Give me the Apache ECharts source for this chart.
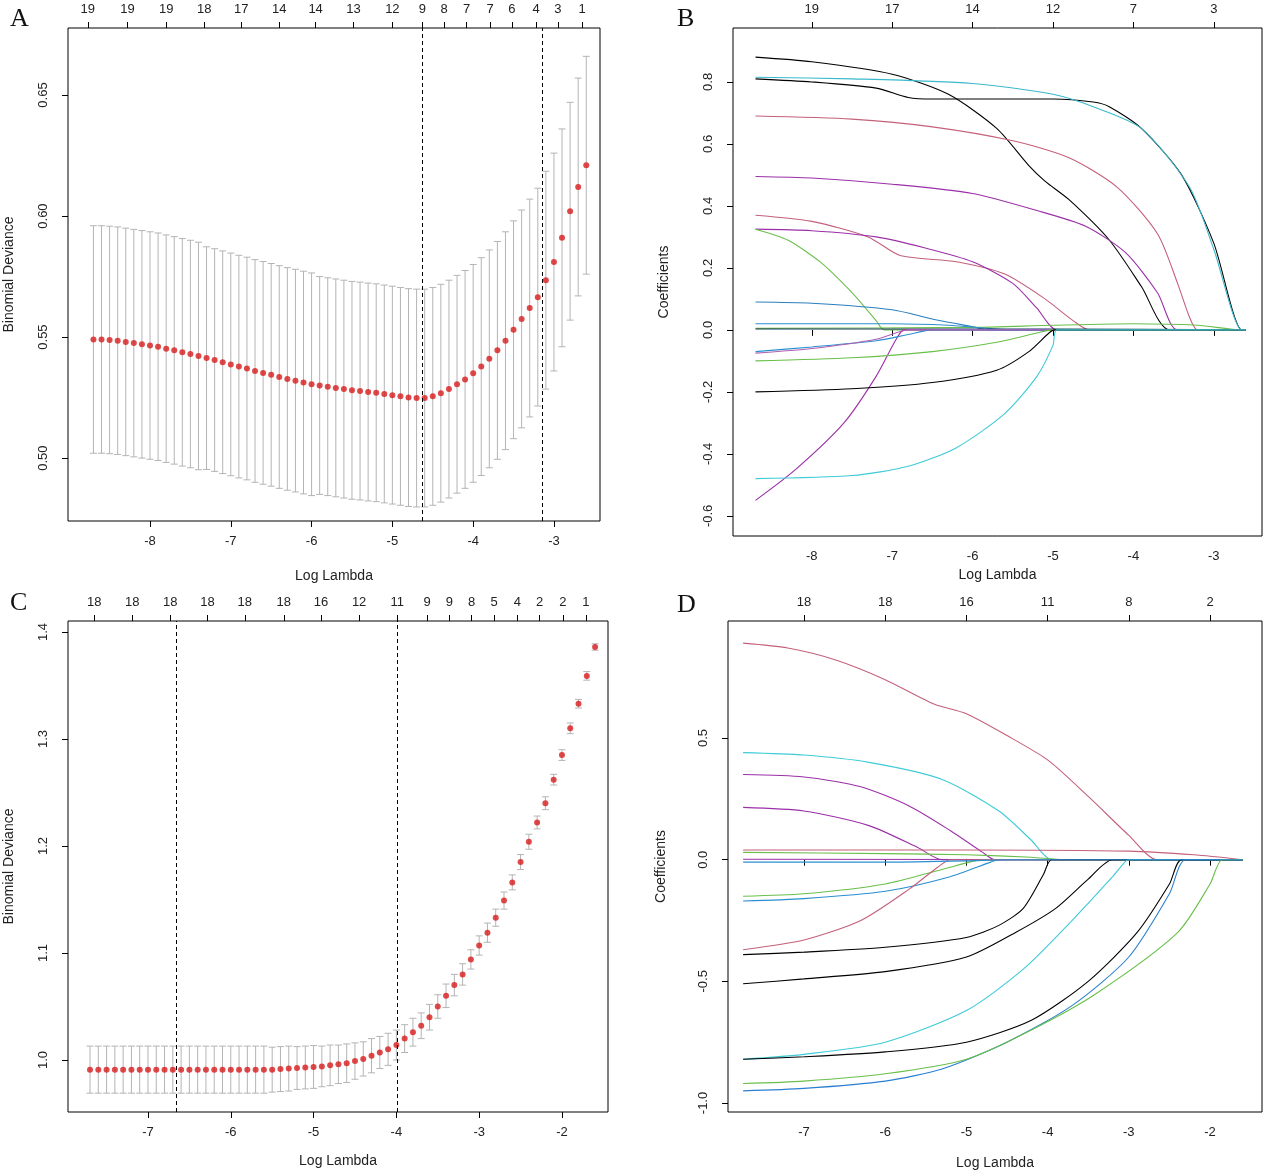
<!DOCTYPE html>
<html><head><meta charset="utf-8">
<script src="https://cdn.jsdelivr.net/npm/echarts@6/dist/echarts.min.js"></script>
<style>html,body{margin:0;padding:0;background:#fff}#c{width:1269px;height:1174px}</style>
</head><body><div id="c"></div>
<script>
// ---------- Panel A ----------
const aLambda = [-8.7,-8.6,-8.5,-8.4,-8.3,-8.2,-8.1,-8.0,-7.9,-7.8,-7.7,-7.6,-7.5,-7.4,-7.3,-7.2,-7.1,-7.0,-6.9,-6.8,-6.7,-6.6,-6.5,-6.4,-6.3,-6.2,-6.1,-6.0,-5.9,-5.8,-5.7,-5.6,-5.5,-5.4,-5.3,-5.2,-5.1,-5.0,-4.9,-4.8,-4.7,-4.6,-4.5,-4.4,-4.3,-4.2,-4.1,-4.0,-3.9,-3.8,-3.7,-3.6,-3.5,-3.4,-3.3,-3.2,-3.1,-3.0,-2.9,-2.8,-2.7,-2.6];
const aMean = [.549,.549,.5488,.5485,.548,.5475,.547,.5465,.546,.5452,.5445,.5437,.543,.5422,.5413,.5405,.5396,.5387,.5378,.537,.536,.5352,.5344,.5335,.5327,.532,.5312,.5305,.53,.5295,.529,.5285,.528,.5277,.5273,.527,.5265,.526,.5255,.525,.5248,.5248,.5255,.5268,.5285,.5305,.5325,.535,.5378,.541,.5445,.5485,.553,.5575,.562,.5665,.5735,.581,.591,.602,.612,.621];
const aSE = [.047,.047,.047,.047,.047,.047,.047,.047,.047,.047,.047,.047,.047,.047,.046,.046,.046,.046,.046,.046,.046,.046,.046,.046,.046,.046,.046,.046,.045,.045,.045,.045,.045,.045,.045,.045,.045,.045,.045,.045,.045,.045,.045,.045,.045,.045,.045,.045,.045,.045,.045,.045,.045,.045,.045,.045,.045,.045,.045,.045,.045,.045];
const aTopLambda = [-8.77,-8.28,-7.80,-7.33,-6.87,-6.40,-5.95,-5.48,-5.0,-4.63,-4.36,-4.08,-3.79,-3.52,-3.22,-2.95,-2.65];
const aTopCount = [19,19,19,18,17,14,14,13,12,9,8,7,7,6,4,3,1];
const aVLines = [-4.63,-3.14];
const aXTicks = [-8,-7,-6,-5,-4,-3];
const aYTicks = [0.50,0.55,0.60,0.65];

// ---------- Panel C ----------
const cLambda = [-7.7,-7.6,-7.5,-7.4,-7.3,-7.2,-7.1,-7.0,-6.9,-6.8,-6.7,-6.6,-6.5,-6.4,-6.3,-6.2,-6.1,-6.0,-5.9,-5.8,-5.7,-5.6,-5.5,-5.4,-5.3,-5.2,-5.1,-5.0,-4.9,-4.8,-4.7,-4.6,-4.5,-4.4,-4.3,-4.2,-4.1,-4.0,-3.9,-3.8,-3.7,-3.6,-3.5,-3.4,-3.3,-3.2,-3.1,-3.0,-2.9,-2.8,-2.7,-2.6,-2.5,-2.4,-2.3,-2.2,-2.1,-2.0,-1.9,-1.8,-1.7,-1.6];
const cMean = [.991,.991,.991,.991,.991,.991,.991,.991,.991,.991,.991,.991,.991,.991,.991,.991,.991,.991,.991,.991,.991,.991,.991,.9915,.992,.9925,.993,.9935,.994,.995,.996,.997,.999,1.001,1.004,1.007,1.010,1.014,1.020,1.026,1.032,1.040,1.050,1.060,1.070,1.080,1.094,1.107,1.119,1.133,1.149,1.166,1.185,1.204,1.222,1.240,1.262,1.285,1.310,1.333,1.359,1.386];
const cSE = [.022,.022,.022,.022,.022,.022,.022,.022,.022,.022,.022,.022,.022,.022,.022,.022,.022,.022,.022,.022,.022,.022,.021,.021,.021,.020,.020,.020,.019,.019,.018,.018,.017,.016,.016,.015,.015,.014,.013,.013,.012,.012,.011,.011,.010,.010,.009,.009,.009,.008,.008,.007,.007,.007,.006,.006,.005,.005,.005,.004,.004,.003];
const cTopLambda = [-7.65,-7.19,-6.73,-6.28,-5.83,-5.36,-4.91,-4.45,-3.99,-3.63,-3.36,-3.09,-2.82,-2.54,-2.27,-1.99,-1.71];
const cTopCount = [18,18,18,18,18,18,16,12,11,9,9,8,5,4,2,2,1];
const cVLines = [-6.66,-3.99];
const cXTicks = [-7,-6,-5,-4,-3,-2];
const cYTicks = [1.0,1.1,1.2,1.3,1.4];

// ---------- Panel B ----------
const bXTicks = [-8,-7,-6,-5,-4,-3];
const bTopCount = [19,17,14,12,7,3];
const bYTicks = [-0.6,-0.4,-0.2,0.0,0.2,0.4,0.6,0.8];
const bColors = ['#000','#000','#3bb9cc','#c4607a','#9b2fa8','#c4607a','#9b2fa8','#6abf4b','#2a7fbf','#6abf4b','#2a8fd0','#1a3a60','#9b2fa8','#2a8fd0','#b060b0','#6abf4b','#000','#3ecbd6'];
const bPaths = [
 [[-8.7,0.88],[-8,0.865],[-7,0.825],[-6.3,0.76],[-5.7,0.65],[-5.3,0.53],[-5.1,0.48],[-4.8,0.42],[-4.3,0.29],[-3.9,0.14],[-3.55,0],[-2.6,0]],
 [[-8.7,0.81],[-8,0.8],[-7.2,0.78],[-6.8,0.75],[-6.5,0.745],[-5,0.745],[-4.5,0.735],[-4.3,0.72],[-3.9,0.65],[-3.4,0.5],[-3.0,0.28],[-2.65,0],[-2.6,0]],
 [[-8.7,0.815],[-7.5,0.81],[-6,0.795],[-5,0.76],[-4.5,0.72],[-3.9,0.65],[-3.3,0.46],[-3.0,0.26],[-2.65,0],[-2.6,0]],
 [[-8.7,0.69],[-7.5,0.68],[-6.5,0.655],[-5.5,0.61],[-4.8,0.555],[-4.2,0.46],[-3.7,0.31],[-3.45,0.15],[-3.3,0.04],[-3.2,0],[-2.6,0]],
 [[-8.7,0.495],[-8,0.49],[-7,0.47],[-6,0.44],[-5.2,0.385],[-4.6,0.335],[-4.1,0.25],[-3.7,0.12],[-3.45,0],[-2.6,0]],
 [[-8.7,0.37],[-8,0.35],[-7.3,0.3],[-6.9,0.24],[-6.2,0.22],[-5.6,0.18],[-5.1,0.1],[-4.75,0.03],[-4.55,0],[-2.6,0]],
 [[-8.7,0.325],[-8,0.32],[-7.2,0.3],[-6.6,0.265],[-6,0.22],[-5.5,0.15],[-5.2,0.07],[-4.95,0],[-2.6,0]],
 [[-8.7,0.325],[-8.3,0.29],[-7.9,0.22],[-7.5,0.12],[-7.2,0.03],[-7.1,0],[-2.6,0]],
 [[-8.7,0.09],[-8,0.086],[-7,0.065],[-6.5,0.035],[-6,0.01],[-5.8,0],[-2.6,0]],
 [[-8.7,0.005],[-6,0.008],[-5,0.015],[-4,0.02],[-3.2,0.015],[-2.65,0],[-2.6,0]],
 [[-8.7,0.02],[-7,0.02],[-6.3,0.015],[-5.8,0.005],[-5.5,0],[-2.6,0]],
 [[-8.7,0.003],[-5,0.003],[-2.6,0]],
 [[-8.7,-0.55],[-8.2,-0.45],[-7.6,-0.3],[-7.2,-0.15],[-6.95,-0.03],[-6.85,0],[-2.6,0]],
 [[-8.7,-0.07],[-8,-0.055],[-7.2,-0.035],[-6.8,-0.015],[-6.5,0],[-2.6,0]],
 [[-8.7,-0.075],[-8,-0.06],[-7.2,-0.03],[-6.9,-0.005],[-6.8,0],[-2.6,0]],
 [[-8.7,-0.1],[-7.5,-0.09],[-6.5,-0.07],[-5.7,-0.04],[-5.2,-0.01],[-5.0,0],[-2.6,0]],
 [[-8.7,-0.2],[-7.5,-0.19],[-6.5,-0.17],[-5.7,-0.13],[-5.3,-0.07],[-5.05,-0.01],[-4.98,0],[-2.6,0]],
 [[-8.7,-0.48],[-7.5,-0.47],[-6.8,-0.44],[-6.2,-0.38],[-5.6,-0.27],[-5.2,-0.15],[-5.0,-0.05],[-4.95,0],[-2.6,0]]
];

// ---------- Panel D ----------
const dXTicks = [-7,-6,-5,-4,-3,-2];
const dTopCount = [18,18,16,11,8,2];
const dYTicks = [-1.0,-0.5,0.0,0.5];
const dColors = ['#c4607a','#3ecbd6','#9b2fa8','#9b2fa8','#c4607a','#6abf4b','#9b2fa8','#6abf4b','#2a8fd0','#c4607a','#000','#000','#3ecbd6','#000','#2a7fd0','#6abf4b','#2a8fd0'];
const dPaths = [
 [[-7.75,0.89],[-7.2,0.87],[-6.6,0.82],[-6,0.74],[-5.4,0.64],[-5,0.6],[-4.5,0.51],[-4,0.41],[-3.5,0.26],[-3.0,0.1],[-2.65,0],[-1.6,0]],
 [[-7.75,0.44],[-7,0.43],[-6.2,0.4],[-5.3,0.33],[-4.6,0.2],[-4.2,0.08],[-3.95,0],[-1.6,0]],
 [[-7.75,0.35],[-7,0.34],[-6.3,0.3],[-5.7,0.22],[-5.2,0.12],[-4.8,0.03],[-4.65,0],[-1.6,0]],
 [[-7.75,0.215],[-7,0.2],[-6.2,0.14],[-5.6,0.05],[-5.3,0.0],[-1.6,0]],
 [[-7.75,0.04],[-5,0.04],[-3,0.035],[-2.2,0.02],[-1.6,0]],
 [[-7.75,0.03],[-6,0.025],[-5,0.02],[-4.2,0.01],[-3.8,0],[-1.6,0]],
 [[-7.75,0.002],[-1.6,0]],
 [[-7.75,-0.15],[-7,-0.14],[-6,-0.1],[-5.3,-0.04],[-4.9,-0.005],[-4.8,0],[-1.6,0]],
 [[-7.75,-0.17],[-7,-0.16],[-6,-0.13],[-5.2,-0.07],[-4.7,-0.01],[-4.6,0],[-1.6,0]],
 [[-7.75,-0.37],[-7,-0.33],[-6.3,-0.25],[-5.7,-0.12],[-5.35,-0.03],[-5.2,0],[-1.6,0]],
 [[-7.75,-0.39],[-7,-0.38],[-6,-0.36],[-5,-0.32],[-4.6,-0.27],[-4.3,-0.2],[-4.05,-0.06],[-3.95,0],[-1.6,0]],
 [[-7.75,-0.51],[-7,-0.49],[-6,-0.46],[-5,-0.4],[-4.4,-0.3],[-3.9,-0.2],[-3.5,-0.08],[-3.2,0],[-1.6,0]],
 [[-7.75,-0.82],[-7,-0.8],[-6,-0.75],[-5,-0.62],[-4.3,-0.45],[-3.7,-0.25],[-3.2,-0.07],[-3.05,-0.01],[-3.0,0],[-1.6,0]],
 [[-7.75,-0.82],[-7,-0.81],[-6,-0.79],[-5,-0.75],[-4.2,-0.66],[-3.5,-0.5],[-2.9,-0.3],[-2.5,-0.1],[-2.35,0],[-1.6,0]],
 [[-7.75,-0.95],[-7,-0.94],[-6,-0.91],[-5.3,-0.86],[-4.5,-0.75],[-3.7,-0.6],[-3,-0.4],[-2.5,-0.14],[-2.3,0],[-1.6,0]],
 [[-7.75,-0.92],[-7,-0.91],[-6,-0.88],[-5,-0.82],[-4.2,-0.7],[-3.4,-0.55],[-2.4,-0.3],[-2.0,-0.1],[-1.85,0],[-1.6,0]],
 [[-7.75,-0.01],[-6,-0.01],[-5,-0.005],[-4.5,0],[-1.6,0]]
];

const FONT = 'Liberation Sans';
const grids = [
 {left:68, top:28, width:532, height:493},
 {left:733, top:28, width:529, height:508},
 {left:68, top:621, width:540, height:491},
 {left:728, top:621, width:534, height:491}
].map(g => Object.assign({show:true, borderColor:'#000', borderWidth:1, containLabel:false, outerBoundsMode:'none'}, g));

function bottomX(gi, min, max, ticks, gap) {
  return {type:'value', gridIndex:gi, min, max, position:'bottom',
    name:'Log Lambda', nameLocation:'middle', nameGap:gap,
    nameTextStyle:{fontFamily:FONT, fontSize:14, color:'#222'},
    axisLine:{show:false}, splitLine:{show:false},
    axisTick:{show:true, length:6, customValues:ticks, lineStyle:{color:'#000'}},
    axisLabel:{customValues:ticks, fontFamily:FONT, fontSize:13, color:'#222', margin:14}};
}
function topX(gi, min, max, ticks, counts) {
  return {type:'value', gridIndex:gi, min, max, position:'top',
    axisLine:{show:false}, splitLine:{show:false},
    axisTick:{show:true, length:6, customValues:ticks, lineStyle:{color:'#000'}},
    axisLabel:{customValues:ticks, fontFamily:FONT, fontSize:13, color:'#222', margin:12,
      formatter: v => { let bi=0; ticks.forEach((t,i)=>{ if(Math.abs(t-v)<Math.abs(ticks[bi]-v)) bi=i; }); return String(counts[bi]); }}};
}
function yAx(gi, min, max, ticks, name, gap, fmt) {
  return {type:'value', gridIndex:gi, min, max,
    name, nameLocation:'middle', nameGap:gap,
    nameTextStyle:{fontFamily:FONT, fontSize:14, color:'#222'},
    axisLine:{show:false}, splitLine:{show:false},
    axisTick:{show:true, length:6, customValues:ticks, lineStyle:{color:'#000'}},
    axisLabel:{customValues:ticks, rotate:90, fontFamily:FONT, fontSize:13, color:'#222', margin:18, formatter:fmt}};
}

const xAxis = [
 bottomX(0,-9.015,-2.43,aXTicks,48), topX(0,-9.015,-2.43,aTopLambda,aTopCount),
 bottomX(1,-8.98,-2.40,bXTicks,32), topX(1,-8.98,-2.40,bXTicks,bTopCount),
 bottomX(2,-7.966,-1.444,cXTicks,42), topX(2,-7.966,-1.444,cTopLambda,cTopCount),
 bottomX(3,-7.936,-1.36,dXTicks,44), topX(3,-7.936,-1.36,dXTicks,dTopCount)
];
const yAxis = [
 yAx(0,0.474,0.6777,aYTicks,'Binomial Deviance',52,v=>v.toFixed(2)),
 yAx(1,-0.665,0.974,bYTicks,'Coefficients',62,v=>v.toFixed(1)),
 yAx(2,0.9514,1.4103,cYTicks,'Binomial Deviance',52,v=>v.toFixed(1)),
 yAx(3,-1.037,0.981,dYTicks,'Coefficients',60,v=>v.toFixed(1))
];

function errBars(xi, yi, lam, mean, se) {
  return {type:'custom', xAxisIndex:xi, yAxisIndex:yi, z:2, silent:true,
    data: lam.map((l,i)=>[l,mean[i],se[i]]),
    encode:{x:0,y:1},
    renderItem:(params, api) => {
      const x=api.value(0), m=api.value(1), s=api.value(2);
      const t=api.coord([x,m+s]), b=api.coord([x,m-s]);
      const st={stroke:'#b4b4b4', lineWidth:1};
      return {type:'group', children:[
        {type:'line', shape:{x1:t[0],y1:t[1],x2:b[0],y2:b[1]}, style:st},
        {type:'line', shape:{x1:t[0]-3.5,y1:t[1],x2:t[0]+3.5,y2:t[1]}, style:st},
        {type:'line', shape:{x1:b[0]-3.5,y1:b[1],x2:b[0]+3.5,y2:b[1]}, style:st}]};
    }};
}
function dots(xi, yi, lam, mean, vlines) {
  return {type:'scatter', xAxisIndex:xi, yAxisIndex:yi, z:3, silent:true,
    symbolSize:6, itemStyle:{color:'#d81c1c'},
    data: lam.map((l,i)=>[l,mean[i]]),
    markLine:{silent:true, symbol:'none', label:{show:false},
      lineStyle:{color:'#000', type:[4,3], width:1},
      data: vlines.map(v=>({xAxis:v}))}};
}
function paths(xi, yi, list, colors) {
  return list.map((p,i)=>({type:'line', xAxisIndex:xi, yAxisIndex:yi, data:p,
    smooth:0.25, showSymbol:false, silent:true,
    lineStyle:{color:colors[i%colors.length], width:1.1}}));
}

const series = [
  errBars(0,0,aLambda,aMean,aSE), dots(0,0,aLambda,aMean,aVLines),
  ...paths(2,1,bPaths,bColors),
  errBars(4,2,cLambda,cMean,cSE), dots(4,2,cLambda,cMean,cVLines),
  ...paths(6,3,dPaths,dColors)
];

const letter = (t,x,y)=>({type:'text', left:x, top:y, style:{text:t, font:'26px "Liberation Serif", serif', fill:'#111'}});

const chart = echarts.init(document.getElementById('c'), null, {renderer:'canvas'});
chart.setOption({
  animation:false, backgroundColor:'#fff',
  grid:grids, xAxis, yAxis, series,
  graphic:[letter('A',10,6), letter('B',677,6), letter('C',10,590), letter('D',677,592)]
});
</script></body></html>
